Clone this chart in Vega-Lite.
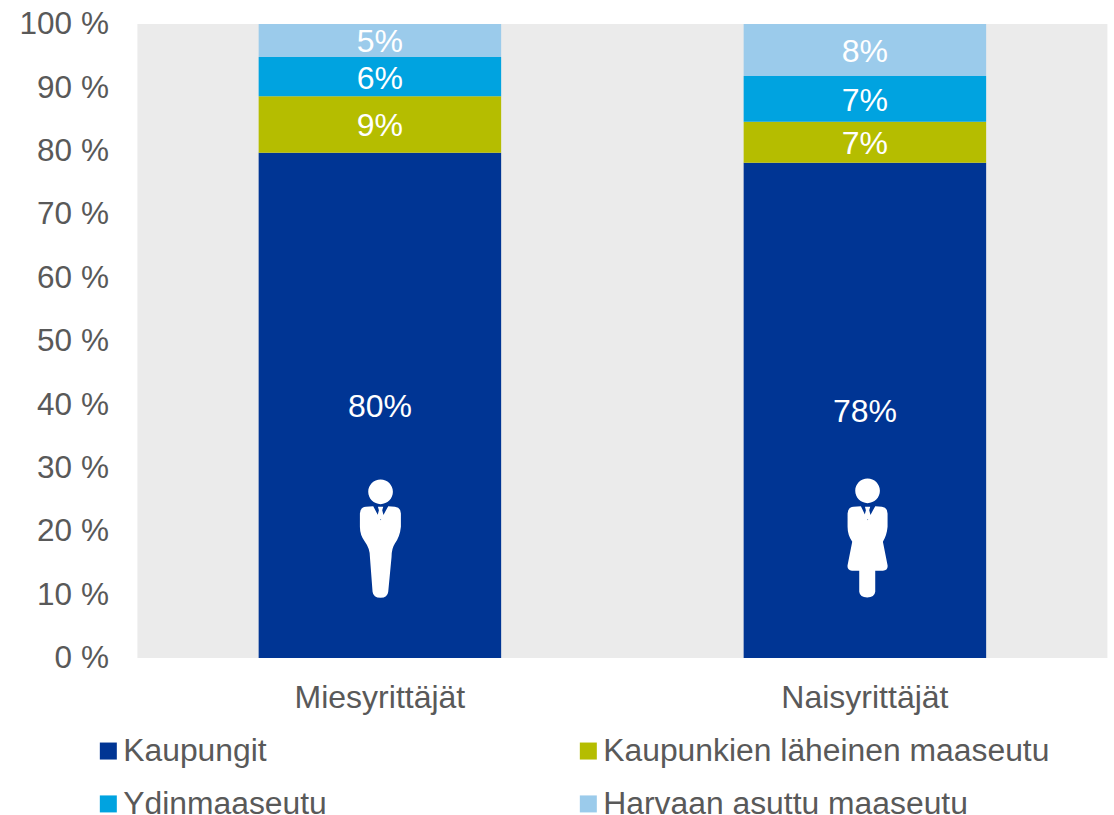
{
"$schema":"https://vega.github.io/schema/vega-lite/v6.json",
"width":970,"height":634,
"autosize":"none",
"padding":{"left":137.4,"top":24,"right":6.6,"bottom":157},
"background":"#ffffff",
"view":{"fill":"#EBEBEB","stroke":null},
"config":{"font":"Liberation Sans"},
"datasets":{
"shares":[
{"group":"Miesyrittäjät","area":"Kaupungit","order":1,"value":79.7,"label":"80%"},
{"group":"Miesyrittäjät","area":"Kaupunkien läheinen maaseutu","order":2,"value":8.9,"label":"9%"},
{"group":"Miesyrittäjät","area":"Ydinmaaseutu","order":3,"value":6.2,"label":"6%"},
{"group":"Miesyrittäjät","area":"Harvaan asuttu maaseutu","order":4,"value":5.2,"label":"5%"},
{"group":"Naisyrittäjät","area":"Kaupungit","order":1,"value":78.1,"label":"78%"},
{"group":"Naisyrittäjät","area":"Kaupunkien läheinen maaseutu","order":2,"value":6.5,"label":"7%"},
{"group":"Naisyrittäjät","area":"Ydinmaaseutu","order":3,"value":7.2,"label":"7%"},
{"group":"Naisyrittäjät","area":"Harvaan asuttu maaseutu","order":4,"value":8.2,"label":"8%"}
],
"icons":[
{"group":"Miesyrittäjät","pos":18.85,"person":"mies"},
{"group":"Naisyrittäjät","pos":18.85,"person":"nainen"}
]
},
"encoding":{
"x":{"field":"group","type":"nominal","sort":null,"scale":{"paddingInner":0.5,"paddingOuter":0.25},
"axis":{"title":null,"labelAngle":0,"ticks":false,"domain":false,"labelFontSize":32,"labelColor":"#595959","labelPadding":24}}
},
"layer":[
{"data":{"name":"shares"},
"mark":{"type":"bar","stroke":null},
"encoding":{
"y":{"field":"value","type":"quantitative","stack":"zero","scale":{"domain":[0,100],"nice":false},
"axis":{"title":null,"values":[0,10,20,30,40,50,60,70,80,90,100],"labelExpr":"datum.value + ' %'","ticks":false,"domain":false,"grid":false,"labelFontSize":31.5,"labelColor":"#595959","labelPadding":29,"labelOffset":0.7}},
"color":{"field":"area","type":"nominal",
"scale":{"domain":["Kaupungit","Kaupunkien läheinen maaseutu","Ydinmaaseutu","Harvaan asuttu maaseutu"],"range":["#003594","#B5BD00","#00A3E0","#9BCBEB"]},
"legend":{"title":null,"orient":"none","legendX":-45,"legendY":711,"columns":2,"direction":"horizontal","symbolType":"square","symbolSize":289,"symbolStrokeWidth":0,"symbolOpacity":1,"labelFontSize":31.85,"labelColor":"#595959","labelOffset":-1,"columnPadding":245,"rowPadding":20,"labelLimit":600,"gridAlign":"each"}},
"order":{"field":"order","type":"quantitative"}
}},
{"data":{"name":"shares"},
"mark":{"type":"text","color":"#ffffff","fontSize":32,"baseline":"middle","dy":2},
"encoding":{
"y":{"field":"value","type":"quantitative","stack":"zero","bandPosition":0.5},
"text":{"field":"label","type":"nominal"},
"order":{"field":"order","type":"quantitative"}
}},
{"data":{"name":"icons"},
"mark":{"type":"point","filled":true,"color":"#ffffff","opacity":1,"strokeWidth":0,"size":0.4444},
"encoding":{
"y":{"field":"pos","type":"quantitative"},
"shape":{"field":"person","type":"nominal","legend":null,
"scale":{"domain":["mies","nainen"],"range":[
"M-20,-97 L2,-55 L25,-97 L45,-95 Q63,-93 63,-75 L63,-35 Q60,-5 45,15 Q35,30 35,55 L25,160 Q23,178 2,178 Q-20,178 -22,160 L-30,55 Q-30,30 -45,10 Q-60,-10 -60,-35 L-60,-75 Q-60,-93 -42,-95 Z M-6,-95 L10,-95 L7,-85 L12,-65 L2,-57 L-8,-65 L-3,-85 Z M-35,-140 A37,37 0 1 1 39,-140 A37,37 0 1 1 -35,-140 Z",
"M-12,-97 L8,-55 L31,-97 L51,-95 Q68,-93 68,-75 L68,-35 Q66,-10 54,10 L68,80 Q70,95 54,97 L31,97 L31,160 Q29,177 7,177 Q-15,177 -17,160 L-17,97 L-39,97 Q-54,95 -52,80 L-38,10 Q-52,-10 -52,-35 L-52,-75 Q-52,-93 -34,-95 Z M0,-95 L16,-95 L13,-85 L18,-65 L8,-57 L-2,-65 L3,-85 Z M-29,-143 A37,37 0 1 1 45,-143 A37,37 0 1 1 -29,-143 Z"
]}}
}}
]
}
